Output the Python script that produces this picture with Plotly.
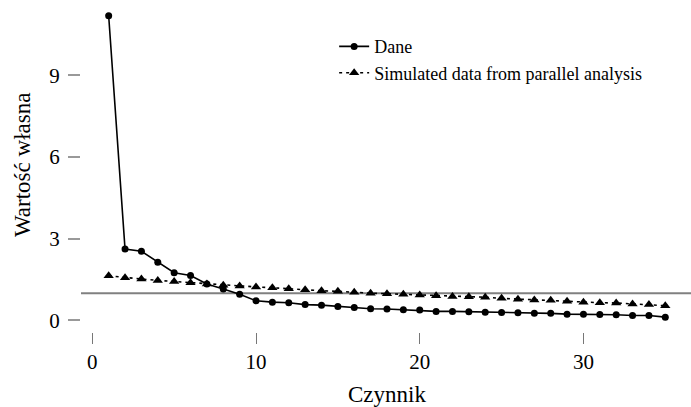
import plotly.graph_objects as go

factors = list(range(1, 36))
dane = [11.19, 2.62, 2.54, 2.14, 1.75, 1.65, 1.34, 1.15, 0.96, 0.72,
        0.67, 0.65, 0.58, 0.56, 0.51, 0.47, 0.43, 0.42, 0.39, 0.38,
        0.33, 0.33, 0.32, 0.30, 0.29, 0.28, 0.26, 0.26, 0.23, 0.23,
        0.22, 0.21, 0.18, 0.18, 0.12]
simulated = [1.64, 1.57, 1.52, 1.47, 1.43, 1.38, 1.34, 1.29, 1.26, 1.23,
             1.20, 1.16, 1.13, 1.09, 1.07, 1.03, 1.00, 0.98, 0.96, 0.93,
             0.91, 0.88, 0.87, 0.85, 0.81, 0.78, 0.75, 0.74, 0.70, 0.67,
             0.65, 0.64, 0.60, 0.58, 0.54]
x_ticks = [0, 10, 20, 30]
y_ticks = [0, 3, 6, 9]
threshold = 1
x_title = "Czynnik"
y_title = "Wartość własna"

FONT = "Liberation Serif"

fig = go.Figure()
fig.add_hline(y=threshold, line=dict(color="#808080", width=2), layer="below")
fig.add_trace(go.Scatter(
    x=factors, y=dane, mode="lines+markers", name="Dane",
    line=dict(color="black", width=1.6),
    marker=dict(symbol="circle", size=7, color="black"),
))
fig.add_trace(go.Scatter(
    x=factors, y=simulated, mode="lines+markers",
    name="Simulated data from parallel analysis",
    line=dict(color="black", width=1.6, dash="3px,4px"),
    marker=dict(symbol="triangle-up", size=9, color="black"),
))

fig.update_layout(
    width=691, height=407,
    margin=dict(l=81, r=0, t=0, b=75, autoexpand=False),
    plot_bgcolor="white", paper_bgcolor="white",
    font=dict(family=FONT, color="black"),
    showlegend=True,
    legend=dict(x=0.415, y=0.915, xanchor="left", yanchor="top",
                font=dict(family=FONT, size=18), bgcolor="rgba(0,0,0,0)",
                tracegroupgap=0, itemwidth=30),
    xaxis=dict(range=[-0.69, 36.57], tickvals=x_ticks, showgrid=False,
               zeroline=False, showline=False, ticks="outside", ticklen=11,
               tickcolor="#777777", tickwidth=1, automargin=False,
               tickfont=dict(family=FONT, size=21)),
    yaxis=dict(range=[-0.426, 11.77], tickvals=y_ticks, showgrid=False,
               zeroline=False, showline=False, ticks="outside", ticklen=12,
               tickcolor="#999999", tickwidth=1.5, automargin=False,
               ticklabelposition="outside",
               tickfont=dict(family=FONT, size=21), ticklabelstandoff=4),
    annotations=[
        dict(text=x_title, xref="paper", yref="paper", x=(387 - 81) / 610,
             y=-(394 - 332) / 332, xanchor="center", yanchor="middle",
             showarrow=False, font=dict(family=FONT, size=23)),
        dict(text=y_title, xref="paper", yref="paper", x=-(81 - 22) / 610,
             y=(332 - 165) / 332, xanchor="center", yanchor="middle",
             textangle=-90, showarrow=False, font=dict(family=FONT, size=23)),
    ],
)

fig.write_html(
    "out.html",
    config={"displayModeBar": False},
    post_script="document.body.style.margin='0';document.body.style.overflow='hidden';",
)
